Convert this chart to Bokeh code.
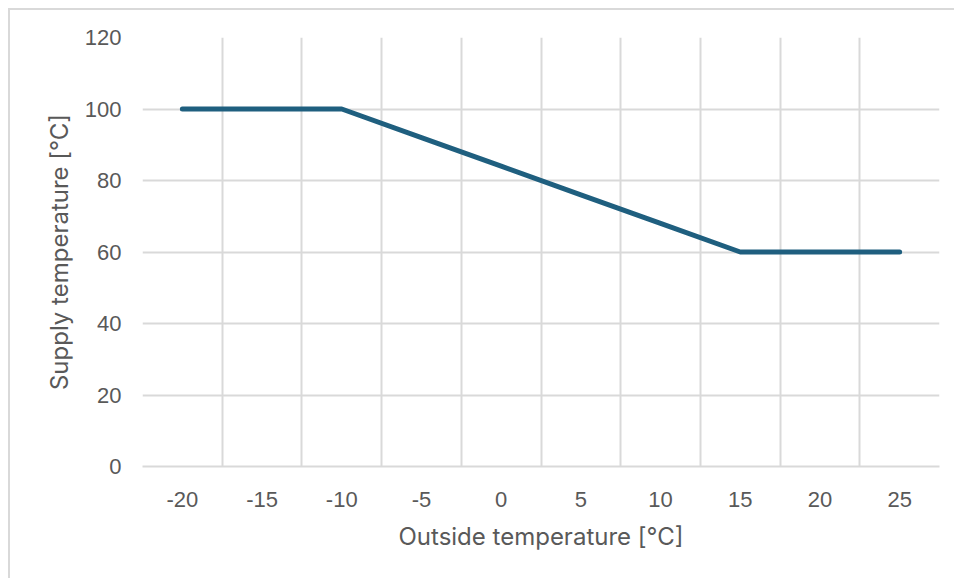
from bokeh.plotting import figure
from bokeh.models import FixedTicker, Range1d
from bokeh.embed import file_html
from bokeh.resources import INLINE

# Heating curve: supply temperature as a function of outside temperature
outside_temp = [-20, -15, -10, -5, 0, 5, 10, 15, 20, 25]
supply_temp = [100, 100, 100, 92, 84, 76, 68, 60, 60, 60]
y_ticks = [0, 20, 40, 60, 80, 100, 120]

GRID = "#d9d9d9"
TEXT = "#595959"

p = figure(
    width=946, height=570,
    output_backend="svg", toolbar_location=None,
    x_range=Range1d(-22.5, 27.5), y_range=Range1d(0, 120),
    min_border_left=132, min_border_right=17, min_border_top=27, min_border_bottom=114,
)
p.styles = {
    "margin-left": "8px", "margin-top": "8px",
    "border-left": "2px solid #d9d9d9", "border-top": "2px solid #d9d9d9",
}
p.outline_line_color = None

p.line(outside_temp, supply_temp, line_color="#1f5f7f", line_width=5,
       line_cap="round", line_join="round")

# Category-style grid: vertical lines between the temperature steps
p.xgrid.ticker = FixedTicker(ticks=[t - 2.5 for t in outside_temp] + [outside_temp[-1] + 2.5])
p.xgrid.grid_line_color = GRID
p.xgrid.grid_line_width = 2
p.ygrid.grid_line_color = GRID
p.ygrid.grid_line_width = 2

p.xaxis.ticker = FixedTicker(ticks=outside_temp)
p.xaxis.major_label_overrides = {t: str(t) for t in outside_temp}
p.yaxis.ticker = FixedTicker(ticks=y_ticks)

for ax in (p.xaxis[0], p.yaxis[0]):
    ax.major_tick_line_color = None
    ax.minor_tick_line_color = None
    ax.major_tick_out = 0
    ax.major_tick_in = 0
    ax.major_label_text_font = "Liberation Sans"
    ax.major_label_text_font_size = "22px"
    ax.major_label_text_color = TEXT
    ax.axis_label_text_font = "Inter"
    ax.axis_label_text_font_size = "24px"
    ax.axis_label_text_font_style = "normal"
    ax.axis_label_text_color = TEXT

p.xaxis.axis_line_color = GRID
p.xaxis.axis_line_width = 2
p.yaxis.axis_line_color = None
p.xaxis.major_label_standoff = 25
p.yaxis.major_label_standoff = 21
p.xaxis.axis_label_standoff = 12
p.yaxis.axis_label_standoff = 8
p.xaxis.axis_label = "Outside temperature [°C]"
p.yaxis.axis_label = "Supply temperature [°C]"

open("out.html", "w").write(file_html(p, INLINE))
